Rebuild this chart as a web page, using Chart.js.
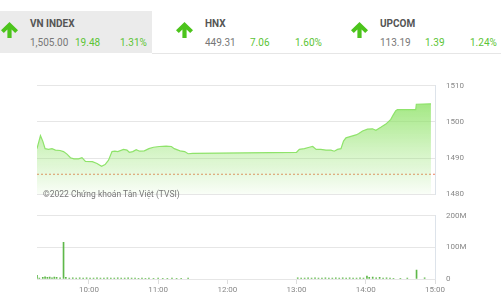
<!DOCTYPE html>
<html>
<head>
  <script src="https://cdn.jsdelivr.net/npm/chart.js"></script>
  <style>
    body { margin: 0; width: 501px; height: 300px; overflow: hidden; background: #fff; font-family: Roboto, sans-serif; position: relative; }
    .hdr { position: absolute; top: 11px; height: 42px; }
    .hdr.active { background: #ebebeb; }
    .hline { position: absolute; left: 152px; right: 0; top: 53px; height: 1px; background: #e6e6e6; }
    .arrow { position: absolute; top: 11px; width: 17px; height: 16px; }
    .name { position: absolute; top: 18px; font-size: 10px; font-weight: bold; color: #555; white-space: nowrap; }
    .val { position: absolute; top: 37px; font-size: 10px; color: #777; white-space: nowrap; }
    .up { color: #5cc436; }
    .box { position: absolute; left: 0; width: 501px; }
    .copy { position: absolute; left: 43px; top: 189px; font-size: 8.5px; color: #777; white-space: nowrap; }
  </style>
</head>
<body>
  <div id="header"></div>
  <div class="hline"></div>
  <div class="box" style="top:70px;height:140px"><canvas id="priceChart"></canvas></div>
  <div class="box" style="top:200px;height:100px"><canvas id="volChart"></canvas></div>
  <div class="copy">©2022 Chứng khoán Tân Việt (TVSI)</div>

  <script>
    // header boxes
    const indexNames = ['VN INDEX', 'HNX', 'UPCOM'];
    const indexValues = ['1,505.00', '449.31', '113.19'];
    const indexChanges = ['19.48', '7.06', '1.39'];
    const indexPercents = ['1.31%', '1.60%', '1.24%'];

    // intraday price (minutes since 00:00, index value)
    const priceTimes = [555, 558, 560, 562, 565, 568, 571, 575, 578, 581, 584, 587, 591, 594, 597, 603, 607, 611, 614, 617, 620,
      622.5, 625, 630, 633, 635, 638, 641, 644, 648, 652, 656, 661, 667, 671.5, 674, 679, 683, 686, 690,
      780, 782.4, 786.8, 791, 794, 797, 801, 805.5, 809.8, 812.7, 815.5, 818.5, 820.7, 822.8, 827.1, 831.5,
      834, 837.2, 841.5, 845.8, 848.8, 853, 857.4, 861.7, 863.7, 866, 867.4, 883.3, 883.8, 896.5];
    const priceValues = [1492.6, 1496.2, 1494.7, 1492.6, 1492.4, 1492.6, 1492.2, 1492.1, 1491.8, 1491.1, 1490.1, 1489.8, 1489.8, 1490.1, 1489.1, 1489.0, 1488.5, 1487.7, 1488.2, 1489.4, 1491.8,
      1491.9, 1491.8, 1492.4, 1492.2, 1491.6, 1491.8, 1492.3, 1491.9, 1492.0, 1492.6, 1493.0, 1493.2, 1493.3, 1493.2, 1492.6, 1492.0, 1491.8, 1491.2, 1491.3,
      1491.6, 1492.4, 1492.6, 1493.0, 1493.2, 1492.4, 1492.4, 1492.2, 1492.2, 1491.9, 1492.4, 1492.6, 1494.7, 1495.6, 1496.0, 1496.4,
      1496.8, 1497.5, 1498.0, 1498.1, 1497.7, 1498.5, 1499.4, 1500.7, 1501.9, 1503.1, 1503.4, 1503.4, 1504.9, 1505.0];
    const refPrice = 1485.52;

    // matched volume (millions)
    const volTimes = [555, 557, 560, 562, 564, 566, 568, 570, 572, 575, 578, 580, 583, 586, 589, 592, 595, 598, 601, 604, 607, 610, 613, 616, 619, 622, 625, 628, 631, 634, 637, 640, 643, 646, 649, 652, 656, 660, 664, 668, 672, 676, 680, 686,
      781, 784, 787, 790, 793, 796, 799, 802, 805, 808, 811, 814, 817, 820, 823, 826, 829, 832, 835, 838, 841, 843, 846, 849, 852, 855, 858, 861, 864, 870, 876, 884, 891];
    const volValues = [12, 3, 5, 7, 5, 6, 4, 6, 5, 4, 116, 5, 3, 4, 3, 4, 3, 4, 3, 3, 4, 3, 3, 4, 3, 3, 4, 3, 3, 4, 3, 3, 2, 3, 2, 3, 2, 3, 2, 2, 3, 2, 2, 3,
      4, 3, 3, 4, 3, 4, 3, 3, 4, 3, 3, 4, 3, 4, 3, 4, 3, 3, 4, 3, 9, 5, 6, 4, 5, 3, 4, 3, 2, 2, 3, 28, 4];

    const priceTicks = [1480, 1490, 1500, 1510];
    const volTicks = ['0', '100M', '200M'];
    const timeLabels = ['10:00', '11:00', '12:00', '13:00', '14:00', '15:00'];

    const arrowSvg = '<svg viewBox="0 0 17 16" width="17" height="16"><path d="M8.5 0 L17 8.3 L14.2 11 L10.6 7.4 L10.6 16 L6.4 16 L6.4 7.4 L2.8 11 L0 8.3 Z" fill="#4cc41c"/></svg>';
    const boxX = [0, 175, 350];
    const hdr = document.getElementById('header');
    indexNames.forEach((n, i) => {
      const x = boxX[i];
      let html = '';
      if (i === 0) html += `<div class="hdr active" style="left:0;width:152px"></div>`;
      html += `<div class="arrow" style="left:${x + 1}px;top:22px">${arrowSvg}</div>`;
      html += `<div class="name" style="left:${x + 30}px">${n}</div>`;
      html += `<div class="val" style="left:${x + 30}px">${indexValues[i]}</div>`;
      html += `<div class="val up" style="left:${x + 75}px">${indexChanges[i]}</div>`;
      html += `<div class="val up" style="left:${x + 120}px">${indexPercents[i]}</div>`;
      hdr.insertAdjacentHTML('beforeend', html);
    });

    const fmtTime = v => String(Math.floor(v / 60)).padStart(2, '0') + ':' + String(v % 60).padStart(2, '0');
    const tickFont = { family: 'Roboto', size: 8 };

    new Chart(document.getElementById('priceChart'), {
      type: 'line',
      data: {
        datasets: [
          {
            data: priceTimes.map((t, i) => ({ x: t, y: priceValues[i] })),
            borderColor: '#8fe36b',
            borderWidth: 1.2,
            pointRadius: 0,
            tension: 0,
            fill: 'start',
            backgroundColor: ctx => {
              const { ctx: c, chartArea } = ctx.chart;
              if (!chartArea) return 'rgba(140,225,100,0.4)';
              const g = c.createLinearGradient(0, chartArea.top, 0, chartArea.bottom);
              g.addColorStop(0, 'rgba(140,226,100,0.95)');
              g.addColorStop(0.6, 'rgba(140,226,100,0.38)');
              g.addColorStop(1, 'rgba(140,226,100,0.05)');
              return g;
            }
          },
          {
            data: [{ x: 555, y: refPrice }, { x: 900, y: refPrice }],
            borderColor: '#ee8060',
            borderWidth: 1,
            borderDash: [2, 2],
            pointRadius: 0,
            fill: false
          }
        ]
      },
      options: {
        responsive: true,
        maintainAspectRatio: false,
        animation: false,
        layout: { padding: { left: 37, top: 10, bottom: 12, right: 0 } },
        plugins: { legend: { display: false }, tooltip: { enabled: false } },
        scales: {
          x: { type: 'linear', min: 555, max: 900, display: false },
          y: {
            position: 'right', min: 1480, max: 1510,
            afterFit: s => { s.width = 66; },
            afterBuildTicks: s => { s.ticks = priceTicks.map(v => ({ value: v })); },
            grid: { color: '#e6e6e6', drawTicks: false },
            border: { display: true, color: '#dde3ea' },
            ticks: { padding: 11, color: '#888', font: tickFont, callback: v => String(v) }
          }
        }
      }
    });

    new Chart(document.getElementById('volChart'), {
      type: 'bar',
      data: {
        datasets: [{
          data: volTimes.map((t, i) => ({ x: t, y: volValues[i] * 1e6 })),
          backgroundColor: '#5fb84a',
          barThickness: 1
        }]
      },
      options: {
        responsive: true,
        maintainAspectRatio: false,
        animation: false,
        layout: { padding: { left: 37, top: 9, bottom: 0, right: 0 } },
        plugins: { legend: { display: false }, tooltip: { enabled: false } },
        scales: {
          x: {
            type: 'linear', min: 555, max: 900, offset: false,
            afterFit: s => { s.height = 21; },
            afterBuildTicks: s => { s.ticks = timeLabels.map(l => ({ value: Number(l.slice(0, 2)) * 60 })); },
            grid: { drawOnChartArea: false, drawTicks: true, tickLength: 5, color: '#dddddd', offset: false },
            border: { display: false },
            ticks: { padding: 1, color: '#888', font: tickFont, maxRotation: 0, callback: v => fmtTime(v) }
          },
          y: {
            position: 'right', min: 0, max: 200e6,
            afterFit: s => { s.width = 66; },
            afterBuildTicks: s => { s.ticks = volTicks.map((l, i) => ({ value: i * 100e6 })); },
            grid: { color: '#e6e6e6', drawTicks: false },
            border: { display: true, color: '#dde3ea' },
            ticks: { padding: 11, color: '#888', font: tickFont, callback: (v, i) => volTicks[i] }
          }
        }
      }
    });
  </script>
</body>
</html>
